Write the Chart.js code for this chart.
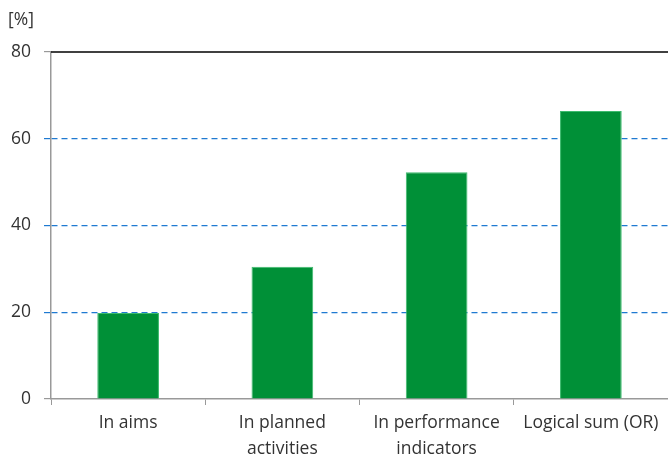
<!DOCTYPE html>
<html>
<head>
<meta charset="utf-8">
<script src="https://cdn.jsdelivr.net/npm/chart.js@4"></script>
<style>
    body { margin: 0; background: #fff; }
    #wrap { width: 668px; height: 461px; }
</style>
</head>
<body>
<div id="wrap"><canvas id="myChart" width="668" height="461"></canvas></div>
<script>
const categories = ['In aims', ['In planned', 'activities'], ['In performance', 'indicators'], 'Logical sum (OR)'];
const shares = [19.8, 30.5, 52.3, 66.4];
const yTicks = [0, 20, 40, 60, 80];
const unitLabel = '[%]';

const fontFamily = '"Open Sans", sans-serif';

// solid black line at the top of the plot and the [%] label
const extras = {
    id: 'extras',
    afterDraw(chart) {
        const ctx = chart.ctx;
        const y = chart.scales.y.getPixelForValue(yTicks[yTicks.length - 1]);
        ctx.save();
        ctx.strokeStyle = '#000';
        ctx.lineWidth = 1.5;
        ctx.beginPath();
        ctx.moveTo(chart.chartArea.left, y);
        ctx.lineTo(chart.chartArea.right, y);
        ctx.stroke();
        ctx.fillStyle = '#333';
        ctx.font = '17.5px ' + fontFamily;
        ctx.textBaseline = 'middle';
        ctx.fillText(unitLabel, 8, 20);
        ctx.restore();
    }
};

const ctx = document.getElementById('myChart').getContext('2d');
const chart = new Chart(ctx, {
    type: 'bar',
    data: {
        labels: categories,
        datasets: [{
            data: shares,
            backgroundColor: '#009037',
            borderColor: '#3dbb6e',
            borderWidth: 1,
            barPercentage: 0.4,
            categoryPercentage: 1
        }]
    },
    options: {
        responsive: false,
        animation: false,
        layout: { padding: { top: 52, right: 0, bottom: 0, left: 0 } },
        plugins: {
            legend: { display: false },
            tooltip: { enabled: false }
        },
        scales: {
            x: {
                offset: true,
                grid: {
                    offset: true,
                    drawOnChartArea: false,
                    tickLength: 6,
                    tickColor: '#999'
                },
                border: { color: '#999', width: 1.5 },
                ticks: {
                    color: '#333',
                    padding: 6,
                    font: { family: fontFamily, size: 17.5, lineHeight: 1.43 },
                    maxRotation: 0,
                    autoSkip: false
                },
                afterFit(scale) { scale.height = 62; }
            },
            y: {
                min: 0,
                max: 80,
                afterBuildTicks(scale) {
                    scale.ticks = yTicks.map(v => ({ value: v }));
                },
                grid: {
                    color: c => (c.tick && (c.tick.value === 0 || c.tick.value === 80)) ? 'rgba(0,0,0,0)' : '#1f7ad1',
                    tickColor: c => (c.tick && (c.tick.value === 0 || c.tick.value === 80)) ? '#999' : '#1f7ad1',
                    lineWidth: 1.2,
                    tickLength: 7
                },
                border: { color: '#999', width: 1.5, dash: [6, 4] },
                ticks: {
                    color: '#333',
                    padding: 13,
                    font: { family: fontFamily, size: 17.5 }
                },
                afterFit(scale) { scale.width = 51; }
            }
        }
    },
    plugins: [extras]
});
</script>
</body>
</html>
